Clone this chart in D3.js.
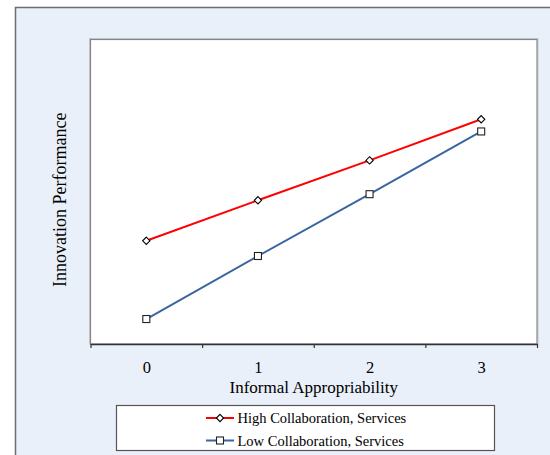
<!DOCTYPE html>
<html><head><meta charset="utf-8">
<script src="https://cdn.jsdelivr.net/npm/d3@7"></script>
<style>html,body{margin:0;padding:0;background:#fff;}svg{display:block;}</style>
</head><body>
<script>
const categories = [0, 1, 2, 3];
const seriesNames = ["High Collaboration, Services", "Low Collaboration, Services"];
const highValues = [0.339, 0.472, 0.603, 0.738];
const lowValues = [0.082, 0.289, 0.492, 0.698];
const xTitle = "Informal Appropriability";
const yTitle = "Innovation Performance";

const W = 550, H = 455;
const svg = d3.select("body").append("svg").attr("width", W).attr("height", H);
const serif = "'Liberation Serif','Times New Roman',serif";

// chart area background + border
svg.append("rect").attr("x", 15.5).attr("y", 7.5).attr("width", 560).attr("height", 470)
  .attr("fill", "#EAF0F9").attr("stroke", "#6e6e6e").attr("stroke-width", 1.5);

const L = 90.5, R = 537, T = 39.5, B = 344;
// plot area
svg.append("rect").attr("x", L - 1).attr("y", T - 1).attr("width", R - L + 2).attr("height", B - T + 1)
  .attr("fill", "none").attr("stroke", "#c4c8cc").attr("stroke-width", 1);
svg.append("rect").attr("x", L).attr("y", T).attr("width", R - L).attr("height", B - T)
  .attr("fill", "#fff").attr("stroke", "#868686").attr("stroke-width", 1.2);

const x = d3.scaleLinear().domain([-0.5, 3.5]).range([L, R]);
const y = d3.scaleLinear().domain([0, 1]).range([B, T]);

// tick marks at category boundaries
const tickAxis = d3.axisBottom(x).tickValues([-0.5, 0.5, 1.5, 2.5, 3.5]).tickSize(4).tickSizeOuter(0).tickFormat("");
const gt = svg.append("g").attr("transform", `translate(0,${B})`).call(tickAxis);
gt.select(".domain").attr("stroke", "#333").attr("stroke-width", 1.3);
gt.selectAll(".tick line").attr("stroke", "#333").attr("stroke-width", 1.2);

// category labels
const labAxis = d3.axisBottom(x).tickValues(categories).tickSize(0).tickPadding(17).tickFormat(d3.format("d"));
const gl = svg.append("g").attr("transform", `translate(0,${B})`).call(labAxis);
gl.select(".domain").remove();
gl.selectAll(".tick text").attr("font-family", serif).attr("font-size", 16.5).attr("fill", "#000");

// axis titles
svg.append("text").attr("x", (L + R) / 2).attr("y", 393).attr("text-anchor", "middle")
  .attr("font-family", serif).attr("font-size", 17).attr("fill", "#000").text(xTitle);
svg.append("text").attr("transform", `translate(66,${(T + B) / 2 + 8}) rotate(-90)`).attr("text-anchor", "middle")
  .attr("font-family", serif).attr("font-size", 18).attr("fill", "#000").text(yTitle);

const line = d3.line().x((d, i) => x(categories[i])).y(d => y(d));
const colors = ["#FF0000", "#3A66A0"];
const series = [highValues, lowValues];

series.forEach((vals, si) => {
  svg.append("path").datum(vals).attr("d", line).attr("fill", "none")
    .attr("stroke", colors[si]).attr("stroke-width", 2);
});
function marker(g, si, cx, cy) {
  if (si === 0) {
    g.append("path").attr("d", d3.symbol().type(d3.symbolDiamond2).size(34)())
      .attr("transform", `translate(${cx},${cy})`).attr("fill", "#fff").attr("stroke", "#000").attr("stroke-width", 1.1);
  } else {
    g.append("rect").attr("x", cx - 3.5).attr("y", cy - 3.5).attr("width", 7).attr("height", 7)
      .attr("fill", "#fff").attr("stroke", "#222").attr("stroke-width", 1.1);
  }
}
series.forEach((vals, si) => {
  const g = svg.append("g");
  vals.forEach((v, i) => marker(g, si, x(categories[i]), y(v)));
});

// legend
svg.append("rect").attr("x", 116.5).attr("y", 405.5).attr("width", 378).attr("height", 45)
  .attr("fill", "#fff").attr("stroke", "#555").attr("stroke-width", 1.2);
seriesNames.forEach((name, si) => {
  const cy = 418 + si * 22.5;
  svg.append("line").attr("x1", 206).attr("x2", 234).attr("y1", cy).attr("y2", cy)
    .attr("stroke", colors[si]).attr("stroke-width", 2);
  marker(svg, si, 220, cy);
  svg.append("text").attr("x", 237.5).attr("y", cy + 5).attr("font-family", serif).attr("font-size", 14.5)
    .attr("fill", "#000").text(name);
});
</script>
</body></html>
